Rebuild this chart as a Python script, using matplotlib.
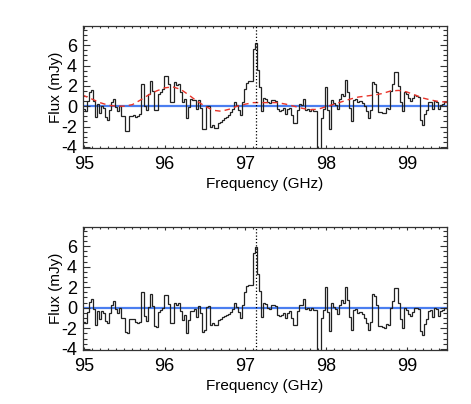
import numpy as np
import matplotlib
matplotlib.use("Agg")
from matplotlib import pyplot as plt
from matplotlib.ticker import MultipleLocator

plt.rcParams['font.family'] = ['Liberation Sans', 'DejaVu Sans']
plt.rcParams['axes.unicode_minus'] = False

# spectral channels (GHz), 25 MHz wide
edge0 = 94.9885
chan_width = 0.025

# observed spectrum (mJy), one value per channel
flux_obs = [
    -0.3, -0.5, 0.5, 1.4, 1.6, 0.5, -1.1, 0.2, -0.7, 0.0,
    -0.2, -1.1, -1.4, -0.4, 0.4, 0.7, -0.1, -0.5, 0.0, -1.0,
    -1.0, -2.4, -2.4, -1.0, -1.0, -0.9, -1.1, -1.0, -0.8, 2.2,
    0.0, -0.4, 1.2, 2.5, 1.5, -0.4, -0.4, 1.2, 1.4, 1.7,
    3.0, 3.0, 2.2, 0.4, 0.4, 2.4, 2.1, 2.2, 1.4, 0.4,
    0.7, -1.2, -0.1, 0.7, 0.6, 0.6, -0.3, 0.6, -0.2, -2.2,
    -2.2, 0.0, 0.0, -2.0, -1.9, -2.1, -2.1, -1.7, -1.6, -1.4,
    -1.2, -1.1, -0.9, -0.6, -0.3, 0.4, 0.1, -0.4, -0.9, 0.4,
    1.7, 2.3, 2.5, 2.5, 5.6, 6.2, 3.6, 1.9, -0.5, 0.8,
    0.7, 0.4, 0.3, 0.6, 0.6, 0.5, -0.3, -0.5, -0.4, -0.2,
    -0.8, -0.3, -0.2, -0.9, -1.7, -1.7, -0.4, 0.2, 0.1, 0.7,
    -0.4, -0.3, -0.5, -0.3, -0.5, -0.5, -4.6, -4.6, -1.2, -0.3,
    1.9, -0.4, -2.2, 0.6, 0.3, 0.1, -0.3, 0.7, 1.2, 1.0,
    2.6, 1.4, -0.2, -1.5, 0.6, 0.7, 0.4, 0.5, 0.3, 0.0,
    -0.5, -1.2, -0.4, 2.4, 2.2, 1.4, -0.6, -0.6, -0.7, -0.7,
    -0.2, -0.3, 1.5, 2.2, 3.4, 3.4, 2.0, 0.4, -0.5, 1.4,
    1.2, 0.8, 0.5, 0.8, 1.1, 1.0, 0.9, -1.4, -1.9, -0.8,
    -0.4, 0.4, 0.4, -0.3, 0.5, 0.4, -0.3, 0.1, 0.2, 0.4,
    0.4,
]

# baseline ripple model (red dashed)
model_ghz = [94.98, 95.1, 95.2, 95.3, 95.4, 95.5, 95.6, 95.7, 95.8, 95.9,
             96.0, 96.1, 96.2, 96.3, 96.4, 96.5, 96.6, 96.7, 96.8, 96.9,
             97.0, 97.1, 97.2, 97.3, 97.4, 97.5, 97.6, 97.7, 97.8, 97.9,
             98.0, 98.1, 98.2, 98.3, 98.4, 98.5, 98.6, 98.7, 98.8, 98.9,
             99.0, 99.1, 99.2, 99.3, 99.4, 99.5]
model_flux = [1.1, 0.7, 0.35, 0.1, 0.0, 0.0, 0.15, 0.6, 1.1, 1.5,
              1.8, 1.9, 1.65, 1.1, 0.5, 0.0, -0.4, -0.5, -0.3, 0.0,
              0.2, 0.35, 0.35, 0.35, 0.35, 0.2, 0.0, -0.2, -0.35, -0.3,
              -0.05, 0.2, 0.45, 0.7, 0.9, 1.0, 1.1, 1.25, 1.5, 1.55,
              1.4, 1.1, 0.8, 0.6, 0.45, 0.4]

# spectrum after baseline subtraction
flux_sub = [
    -1.4, -1.5, -0.4, 0.6, 0.9, -0.1, -1.7, -0.3, -1.1, -0.3,
    -0.5, -1.3, -1.5, -0.5, 0.3, 0.7, -0.1, -0.5, 0.0, -1.0,
    -1.0, -2.4, -2.5, -1.1, -1.1, -1.1, -1.4, -1.5, -1.4, 1.5,
    -0.8, -1.3, 0.1, 1.3, 0.2, -1.8, -1.9, -0.4, -0.2, 0.0,
    1.2, 1.2, 0.4, -1.5, -1.5, 0.5, 0.3, 0.5, -0.3, -1.2,
    -0.7, -2.5, -1.2, -0.3, -0.3, -0.1, -0.9, 0.2, -0.5, -2.4,
    -2.2, 0.1, 0.2, -1.7, -1.5, -1.7, -1.7, -1.2, -1.1, -0.9,
    -0.8, -0.7, -0.6, -0.4, -0.1, 0.5, 0.1, -0.4, -1.0, 0.3,
    1.5, 2.1, 2.2, 2.2, 5.3, 5.9, 3.3, 1.6, -0.9, 0.5,
    0.4, 0.0, -0.1, 0.3, 0.3, 0.2, -0.7, -0.8, -0.7, -0.5,
    -1.0, -0.5, -0.3, -1.0, -1.7, -1.7, -0.3, 0.3, 0.3, 0.9,
    -0.1, 0.0, -0.2, 0.0, -0.2, -0.2, -4.3, -4.3, -1.0, -0.2,
    2.0, -0.4, -2.3, 0.5, 0.1, -0.1, -0.6, 0.3, 0.8, 0.5,
    2.0, 0.8, -0.9, -2.2, -0.2, -0.1, -0.5, -0.4, -0.6, -1.0,
    -1.5, -2.2, -1.4, 1.3, 1.1, 0.3, -1.8, -1.8, -1.9, -2.0,
    -1.6, -1.7, 0.0, 0.7, 1.9, 1.9, 0.5, -1.1, -2.0, 0.0,
    -0.2, -0.6, -0.8, -0.4, 0.0, 0.0, -0.1, -2.3, -2.7, -1.6,
    -1.1, -0.3, -0.2, -0.9, 0.0, -0.1, -0.8, -0.3, -0.2, 0.0,
    0.0,
]

line_freq = 97.126

edges = edge0 + chan_width * np.arange(len(flux_obs) + 1)

fig = plt.figure(figsize=(4.71, 4.04), dpi=100)
ax_top = fig.add_axes([0.1755, 0.634, 0.774, 0.302])
ax_bot = fig.add_axes([0.1755, 0.134, 0.774, 0.305])


def style(ax):
    ax.set_xlim(94.985, 99.5)
    ax.set_ylim(-4.1, 7.9)
    ax.xaxis.set_major_locator(MultipleLocator(1))
    ax.xaxis.set_minor_locator(MultipleLocator(0.1))
    ax.yaxis.set_major_locator(MultipleLocator(2))
    ax.yaxis.set_minor_locator(MultipleLocator(0.5))
    ax.tick_params(axis='both', which='both', direction='in',
                   top=True, right=True, width=0.8, color='#333333')
    ax.tick_params(axis='y', which='major', length=5)
    ax.tick_params(axis='y', which='minor', length=2.6)
    ax.tick_params(axis='x', which='major', length=2.2)
    ax.tick_params(axis='x', which='minor', length=1.4)
    ax.tick_params(axis='x', which='major', labelsize=13, pad=6)
    ax.tick_params(axis='y', which='major', labelsize=13, pad=4)
    for s in ax.spines.values():
        s.set_linewidth(0.9)
        s.set_color('#333333')
    ax.set_xlabel('Frequency (GHz)', fontsize=11, labelpad=2.5)
    ax.set_ylabel('Flux (mJy)', fontsize=11, labelpad=-1.5)
    ax.axhline(0, color='#4a7ef0', lw=1.6, zorder=1)
    ax.axvline(line_freq, color='k', ls=(0, (1, 1.6)), lw=0.9, zorder=3)


style(ax_top)
ax_top.stairs(flux_obs, edges, baseline=None, color='#222222', lw=0.9, zorder=2)
ax_top.plot(model_ghz, model_flux, color='#e8342a', ls=(0, (4, 3)), lw=1.0, zorder=2)

style(ax_bot)
ax_bot.stairs(flux_sub, edges, baseline=None, color='#222222', lw=0.9, zorder=2)

plt.savefig('out.png', dpi=100)
